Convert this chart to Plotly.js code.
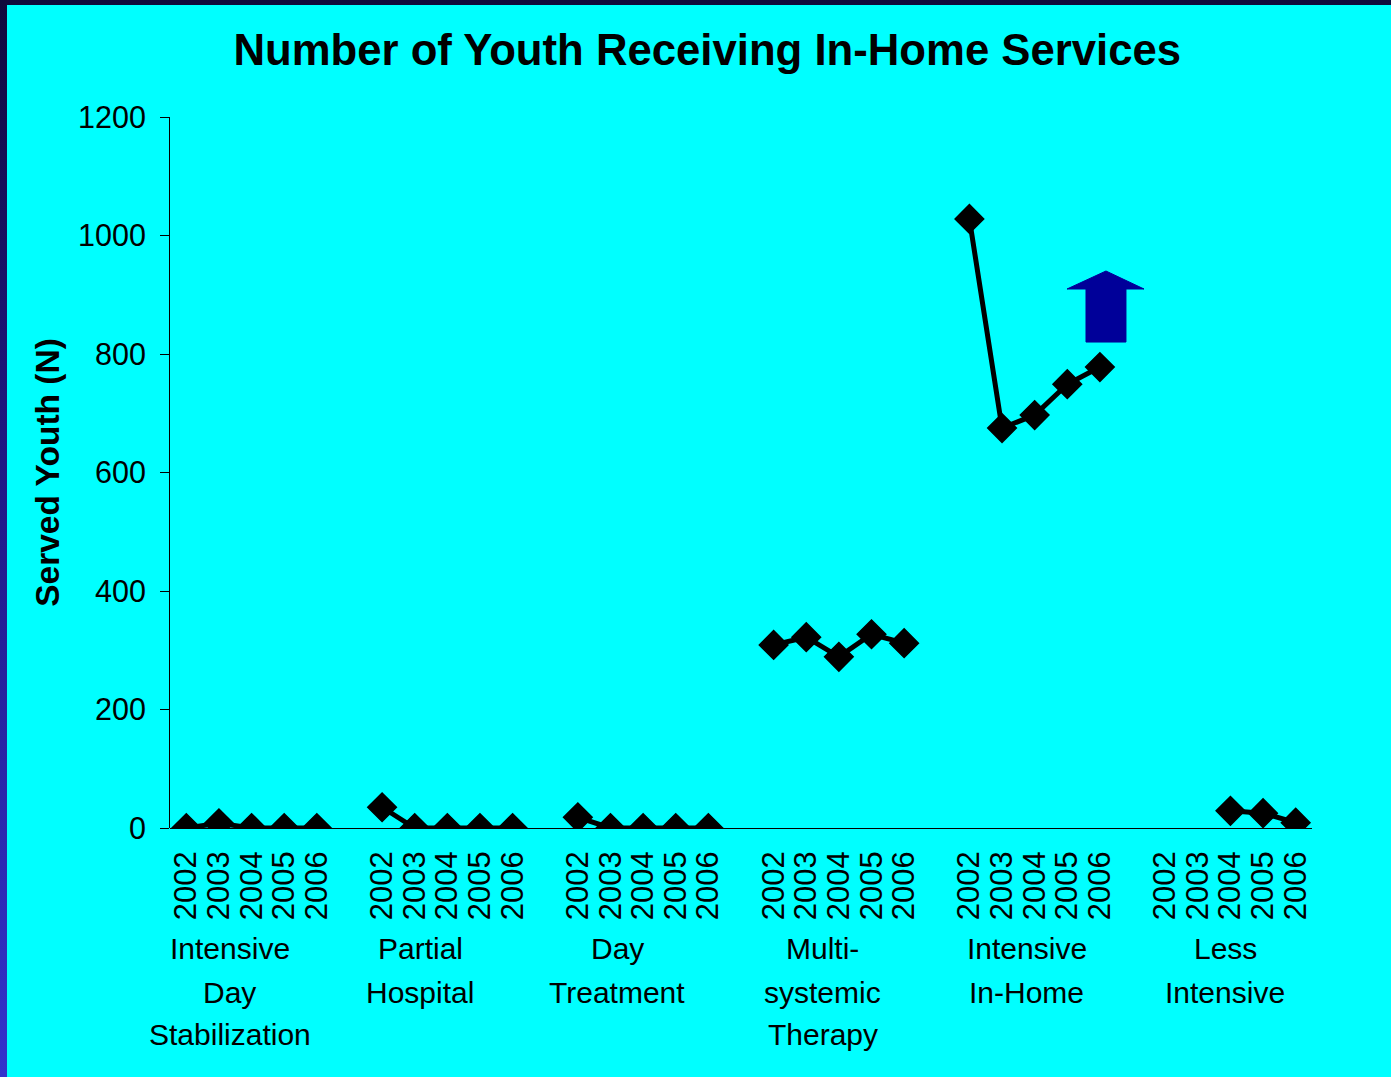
<!DOCTYPE html>
<html>
<head>
<meta charset="utf-8">
<script src="https://cdn.plot.ly/plotly-3.0.1.min.js"></script>
<style>
  html, body { margin: 0; padding: 0; }
  body { width: 1391px; height: 1077px; background: linear-gradient(to bottom, #100a3c 0%, #1e1880 40%, #3333cc 100%); overflow: hidden; }
  #chart { position: absolute; left: 7px; top: 5px; width: 1384px; height: 1072px; }
</style>
</head>
<body>
<div id="chart"></div>
<script>
// ---- data ----
const years = ["2002", "2003", "2004", "2005", "2006"];
const groupLines = [
  ["Intensive", "Day", "Stabilization"],
  ["Partial", "Hospital"],
  ["Day", "Treatment"],
  ["Multi-", "systemic", "Therapy"],
  ["Intensive", "In-Home"],
  ["Less", "Intensive"]
];
const intensiveDayStabilization = [0, 8, 0, 0, 0];
const partialHospital = [35, 0, 0, 0, 0];
const dayTreatment = [18, 0, 0, 0, 0];
const multisystemicTherapy = [309, 322, 289, 327, 312];
const intensiveInHome = [1028, 675, 697, 749, 778];
const lessIntensive = [null, null, 29, 25, 9];
const yTicks = [0, 200, 400, 600, 800, 1000, 1200];

// ---- styling helpers (not data) ----
const labelShift = [-22, -27, -26, -16, -8, -5];
const lineY = [-0.1688, -0.2307, -0.2911];
const FONT = "Liberation Sans, Arial, sans-serif";

const groups = [intensiveDayStabilization, partialHospital, dayTreatment,
                multisystemicTherapy, intensiveInHome, lessIntensive];
const slot = years.length + 1;

const xs = [], ys = [], tickvals = [], ticktext = [];
groups.forEach((vals, g) => {
  vals.forEach((v, i) => {
    const idx = g * slot + i;
    xs.push(idx); ys.push(v);
    tickvals.push(idx); ticktext.push(years[i]);
  });
  if (g < groups.length - 1) { xs.push(g * slot + years.length); ys.push(null); }
});
const nPos = groups.length * slot - 1;

const annotations = [];
groupLines.forEach((lines, g) => {
  lines.forEach((t, k) => {
    annotations.push({
      text: t, x: g * slot + (years.length - 1) / 2, xref: "x",
      y: lineY[k], yref: "paper", xanchor: "center", yanchor: "middle",
      xshift: labelShift[g], showarrow: false,
      font: { family: FONT, size: 30, color: "#000" }
    });
  });
});

const trace = {
  type: "scatter", mode: "lines+markers",
  x: xs, y: ys, connectgaps: false,
  line: { color: "#000", width: 5 },
  marker: { symbol: "diamond", size: 22, color: "#000", line: { color: "#000", width: 1.5 } },
  hoverinfo: "x+y"
};

const layout = {
  width: 1384, height: 1072,
  paper_bgcolor: "#00ffff", plot_bgcolor: "#00ffff",
  margin: { l: 163, r: 79, t: 112, b: 249 },
  showlegend: false,
  title: {
    text: "<b>Number of Youth Receiving In-Home Services</b>",
    font: { family: FONT, size: 43.7, color: "#000" },
    x: 0.506, xref: "container", xanchor: "center",
    y: 1 - 45 / 1072, yref: "container", yanchor: "middle"
  },
  xaxis: {
    type: "linear", range: [-0.5, nPos - 0.5],
    tickmode: "array", tickvals: tickvals, ticktext: ticktext,
    tickangle: -90, ticks: "", ticklabelstandoff: 16,
    tickfont: { family: FONT, size: 31, color: "#000" },
    showgrid: false, zeroline: false,
    showline: false, fixedrange: true
  },
  yaxis: {
    range: [0, 1200], tickmode: "array", tickvals: yTicks,
    ticks: "outside", ticklen: 9, tickwidth: 1, tickcolor: "#000",
    ticklabelstandoff: 8,
    tickfont: { family: FONT, size: 30.5, color: "#000" },
    showgrid: false, zeroline: true, zerolinecolor: "#000", zerolinewidth: 1,
    showline: true, linecolor: "#000", linewidth: 1,
    title: { text: "<b>Served Youth (N)</b>", font: { family: FONT, size: 33.5, color: "#000" }, standoff: 8 }
  },
  annotations: annotations,
  shapes: [{
    type: "path", xref: "paper", yref: "paper",
    path: "M 0.8196 0.7834 L 0.8529 0.7581 L 0.8371 0.7581 L 0.8371 0.6835 L 0.8021 0.6835 L 0.8021 0.7581 L 0.7855 0.7581 Z",
    fillcolor: "#000099", line: { color: "#000099", width: 1 }
  }]
};

Plotly.newPlot("chart", [trace], layout, { displayModeBar: false, staticPlot: true });
</script>
</body>
</html>
